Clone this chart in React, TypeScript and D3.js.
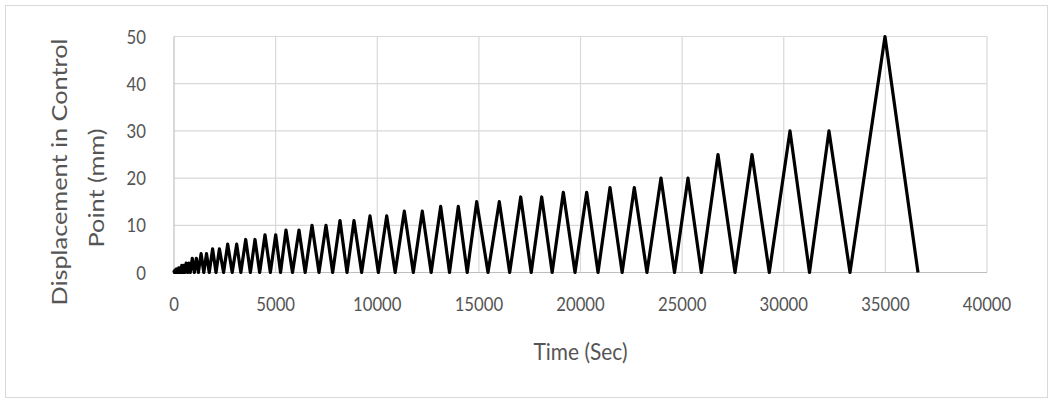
import * as d3 from "d3";
import { useEffect, useRef } from "react";

// time (sec) and displacement (mm) at every turning point of the cyclic history
const timeSec = [
  0, 8, 17, 25, 33, 50, 67, 83, 100, 125, 150, 175, 200, 233, 267, 300, 333, 383, 433, 483, 533,
  600, 667, 733, 800, 900, 1000, 1100, 1200, 1333, 1467, 1600, 1733, 1900, 2067, 2233, 2440,
  2642, 2864, 3085, 3289, 3528, 3757, 3985, 4215, 4477, 4741, 5004, 5242, 5510, 5830, 6150, 6453,
  6790, 7134, 7478, 7806, 8167, 8512, 8856, 9232, 9643, 10054, 10465, 10881, 11331, 11774, 12216,
  12652, 13121, 13555, 13988, 14425, 14893, 15449, 16005, 16515, 17058, 17575, 18091, 18606,
  19154, 19730, 20305, 20862, 21451, 22049, 22647, 23269, 23960, 24625, 25289, 25945, 26765,
  27602, 28438, 29288, 30307, 31267, 32226, 33259, 34981, 36605,
];
const displacementMm = [
  0, 0.25, 0, 0.25, 0, 0.5, 0, 0.5, 0, 0.75, 0, 0.75, 0, 1, 0, 1, 0, 1.5, 0, 1.5, 0,
  2, 0, 2, 0, 3, 0, 3, 0, 4, 0, 4, 0, 5, 0, 5, 0,
  6, 0, 6, 0, 7, 0, 7, 0, 8, 0, 8, 0, 9, 0, 9, 0,
  10, 0, 10, 0, 11, 0, 11, 0, 12, 0, 12, 0, 13, 0, 13,
  0, 14, 0, 14, 0, 15, 0, 15, 0, 16, 0, 16, 0,
  17, 0, 17, 0, 18, 0, 18, 0, 20, 0, 20, 0, 25,
  0, 25, 0, 30, 0, 30, 0, 50, 0,
];

const xTicks = [0, 5000, 10000, 15000, 20000, 25000, 30000, 35000, 40000];
const yTicks = [0, 10, 20, 30, 40, 50];

const xTitle = "Time (Sec)";
const yTitleLines = ["Displacement in Control", "Point (mm)"];

function App() {
  const ref = useRef<SVGSVGElement>(null);

  useEffect(() => {
    const width = 1054,
      height = 405;
    const left = 174,
      right = 987,
      top = 36.5,
      bottom = 272.5;
    const font = "Lato, 'Open Sans', sans-serif";
    const textColor = "#555555";

    const svg = d3.select(ref.current);
    svg.selectAll("*").remove();

    svg
      .append("rect")
      .attr("width", width)
      .attr("height", height)
      .attr("fill", "#ffffff");

    // chart border
    svg
      .append("rect")
      .attr("x", 5.5)
      .attr("y", 5.5)
      .attr("width", 1042)
      .attr("height", 392)
      .attr("fill", "none")
      .attr("stroke", "#d9d9d9");

    const x = d3.scaleLinear().domain([0, 40000]).range([left, right]);
    const y = d3.scaleLinear().domain([0, 50]).range([bottom, top]);

    // gridlines
    svg
      .append("g")
      .selectAll("line")
      .data(yTicks.filter((d) => d > 0))
      .join("line")
      .attr("x1", left)
      .attr("x2", right)
      .attr("y1", (d) => y(d))
      .attr("y2", (d) => y(d))
      .attr("stroke", "#d9d9d9")
      .attr("stroke-width", 1.2);
    svg
      .append("g")
      .selectAll("line")
      .data(xTicks.filter((d) => d > 0))
      .join("line")
      .attr("x1", (d) => x(d))
      .attr("x2", (d) => x(d))
      .attr("y1", top)
      .attr("y2", bottom)
      .attr("stroke", "#d9d9d9")
      .attr("stroke-width", 1.2);

    // axis lines
    svg
      .append("line")
      .attr("x1", left)
      .attr("x2", right)
      .attr("y1", bottom)
      .attr("y2", bottom)
      .attr("stroke", "#bfbfbf")
      .attr("stroke-width", 1.2);
    svg
      .append("line")
      .attr("x1", left)
      .attr("x2", left)
      .attr("y1", top)
      .attr("y2", bottom)
      .attr("stroke", "#bfbfbf")
      .attr("stroke-width", 1.2);

    // tick labels (narrow, tall digits like the original)
    svg
      .append("g")
      .selectAll("text")
      .data(xTicks)
      .join("text")
      .attr("transform", (d) => `translate(${x(d)},${bottom + 38}) scale(0.88,1)`)
      .attr("text-anchor", "middle")
      .attr("font-family", font)
      .attr("font-size", 19)
      .attr("fill", textColor)
      .text((d) => String(d));
    svg
      .append("g")
      .selectAll("text")
      .data(yTicks)
      .join("text")
      .attr("transform", (d) => `translate(146,${y(d) + 7}) scale(0.88,1)`)
      .attr("text-anchor", "end")
      .attr("font-family", font)
      .attr("font-size", 19)
      .attr("fill", textColor)
      .text((d) => String(d));

    // axis titles
    svg
      .append("text")
      .attr("transform", `translate(${(left + right) / 2},360) scale(0.95,1.05)`)
      .attr("text-anchor", "middle")
      .attr("font-family", font)
      .attr("font-size", 22)
      .attr("fill", textColor)
      .text(xTitle);

    const yTitlePos = [
      [67, 172],
      [104, 188],
    ];
    svg
      .append("g")
      .selectAll("text")
      .data(yTitleLines)
      .join("text")
      .attr(
        "transform",
        (d, i) => `translate(${yTitlePos[i][0]},${yTitlePos[i][1]}) rotate(-90) scale(1.15,1)`
      )
      .attr("text-anchor", "middle")
      .attr("font-family", font)
      .attr("font-size", 22)
      .attr("fill", textColor)
      .text((d) => d);

    // the displacement history
    const line = d3
      .line<number>()
      .x((d) => x(timeSec[d]))
      .y((d) => y(displacementMm[d]));
    svg
      .append("path")
      .attr("d", line(d3.range(timeSec.length)))
      .attr("fill", "none")
      .attr("stroke", "#000000")
      .attr("stroke-width", 3.2)
      .attr("stroke-linejoin", "round");
  }, []);

  return (
    <svg
      ref={ref}
      width={1054}
      height={405}
      style={{ position: "absolute", left: 0, top: 0, display: "block" }}
    />
  );
}

export default App;
